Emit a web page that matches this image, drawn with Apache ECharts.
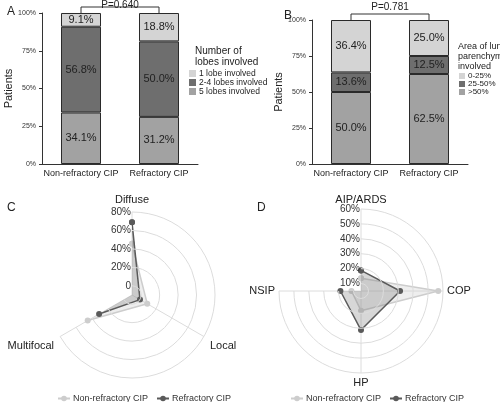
<!DOCTYPE html>
<html><head><meta charset="utf-8">
<script src="https://cdn.jsdelivr.net/npm/echarts@6/dist/echarts.min.js"></script>
<style>html,body{margin:0;padding:0;background:#fff}#c{width:500px;height:402px}</style>
</head><body><div id="c"></div>
<script>
const barCats = ['Non-refractory CIP', 'Refractory CIP'];
const lobeNames = ['1 lobe involved', '2-4 lobes involved', '5 lobes involved'];
const lobe1 = [9.1, 18.8];
const lobe2to4 = [56.8, 50.0];
const lobe5 = [34.1, 31.2];
const areaNames = ['0-25%', '25-50%', '>50%'];
const area0to25 = [36.4, 25.0];
const area25to50 = [13.6, 12.5];
const areaOver50 = [50.0, 62.5];
const pValues = ['P=0.640', 'P=0.781'];
const groupNames = ['Non-refractory CIP', 'Refractory CIP'];
const patternCats = ['Diffuse', 'Local', 'Multifocal'];
const nrPattern = [45.5, 9.1, 45.5];
const rPattern = [68.8, 0, 31.2];
const typeCats = ['AIP/ARDS', 'COP', 'HP', 'NSIP'];
const nrType = [13.6, 56.8, 18.2, 11.4];
const rType = [18.8, 31.2, 31.2, 18.8];

const FONT = 'Liberation Sans, Arial, sans-serif';
const LIGHT = '#d4d4d4', DARK = '#6e6e6e', MID = '#a2a2a2';
const chart = echarts.init(document.getElementById('c'));

function barAxisY(grid) {
  return {
    gridIndex: grid, type: 'value', min: 0, max: 100, interval: 25,
    name: 'Patients', nameLocation: 'middle', nameRotate: 90, nameGap: 25,
    nameTextStyle: {fontSize: 11, color: '#222', fontFamily: FONT},
    axisLine: {show: true, lineStyle: {color: '#333'}},
    axisTick: {show: true, length: 3, lineStyle: {color: '#333'}},
    axisLabel: {fontSize: 7, color: '#333', margin: 6, formatter: v => v + '%', fontFamily: FONT},
    splitLine: {show: false}
  };
}
function barAxisX(grid) {
  return {
    gridIndex: grid, type: 'category', data: barCats,
    axisLine: {lineStyle: {color: '#333'}},
    axisTick: {alignWithLabel: true, length: 3, lineStyle: {color: '#333'}},
    axisLabel: {fontSize: 9, color: '#222', margin: 5, interval: 0, hideOverlap: false, fontFamily: FONT}
  };
}
function barSeries(name, data, color, grid, stack) {
  return {
    type: 'bar', name: name, data: data, stack: stack, xAxisIndex: grid, yAxisIndex: grid,
    barWidth: 40, itemStyle: {color: color, borderColor: '#2a2a2a', borderWidth: 1},
    label: {show: true, position: 'inside', formatter: p => p.value.toFixed(1) + '%',
      fontSize: 11, color: '#222', fontFamily: FONT}
  };
}
function polarLine(name, vals, polar, color, area, z) {
  const d = vals.map((v, i) => [v, i]);
  d.push([vals[0], 0]);
  return {
    type: 'line', name: name, coordinateSystem: 'polar', polarIndex: polar, data: d,
    symbol: 'circle', symbolSize: 6, z: z,
    lineStyle: {color: color, width: 1.5}, itemStyle: {color: color},
    areaStyle: {color: area, origin: 'start'}
  };
}
function radiusAxis(polar, min, max, fmt) {
  return {
    polarIndex: polar, type: 'value', min: min, max: max,
    axisLine: {show: false}, axisTick: {show: false},
    axisLabel: {fontSize: 10, color: '#333', formatter: fmt, margin: 1, align: 'right', fontFamily: FONT},
    splitLine: {show: true, lineStyle: {color: '#dcdcdc', width: 1}}, z: 5
  };
}
function angleAxis(polar, cats, margin, vAlign) {
  const lbl = {fontSize: 11, color: '#222', margin: margin, fontFamily: FONT};
  if (vAlign) lbl.verticalAlign = vAlign;
  return {
    polarIndex: polar, type: 'category', data: cats, startAngle: 90, boundaryGap: false, clockwise: true,
    axisLine: {show: false}, axisTick: {show: false},
    axisLabel: lbl,
    splitLine: {show: true, lineStyle: {color: '#dcdcdc', width: 1}}
  };
}
function radarLegend(left) {
  return {data: groupNames, left: left, top: 389, itemWidth: 12, itemHeight: 7, itemGap: 8,
    textStyle: {fontSize: 9, color: '#333', padding: [0, 0, 0, -2]}, selectedMode: false};
}

const option = {
  animation: false,
  textStyle: {fontFamily: FONT},
  title: [
    {text: 'A', left: 2, top: 1, textStyle: {fontSize: 12, fontWeight: 'normal', color: '#222'}},
    {text: 'B', left: 279, top: 5, textStyle: {fontSize: 12, fontWeight: 'normal', color: '#222'}},
    {text: 'C', left: 2, top: 197, textStyle: {fontSize: 12, fontWeight: 'normal', color: '#222'}},
    {text: 'D', left: 252, top: 197, textStyle: {fontSize: 12, fontWeight: 'normal', color: '#222'}},
    {text: 'Number of\nlobes involved', left: 190, top: 41, textStyle: {fontSize: 10, fontWeight: 'normal', color: '#222', lineHeight: 11}},
    {text: 'Area of lung\nparenchyma\ninvolved', left: 453, top: 37, textStyle: {fontSize: 9, fontWeight: 'normal', color: '#222', lineHeight: 10}}
  ],
  legend: [
    {data: lobeNames, orient: 'vertical', left: 184, top: 64, itemWidth: 7, itemHeight: 7, itemGap: 0, icon: 'rect',
      itemStyle: {borderWidth: 0}, textStyle: {fontSize: 8.5, color: '#222', padding: [0, 0, 0, -2]}, selectedMode: false},
    {data: areaNames, orient: 'vertical', left: 454, top: 67, itemWidth: 6, itemHeight: 6, itemGap: 0, icon: 'rect',
      itemStyle: {borderWidth: 0}, textStyle: {fontSize: 8, color: '#222', padding: [0, 0, 0, -2]}, selectedMode: false},
    radarLegend(52),
    radarLegend(285)
  ],
  grid: [
    {left: 42, top: 13, width: 156, height: 151},
    {left: 312, top: 20, width: 156, height: 144}
  ],
  xAxis: [barAxisX(0), barAxisX(1)],
  yAxis: [barAxisY(0), barAxisY(1)],
  polar: [
    {center: [132, 295], radius: 83},
    {center: [361, 291], radius: 82}
  ],
  angleAxis: [angleAxis(0, patternCats, 7, 'bottom'), angleAxis(1, typeCats, 4)],
  radiusAxis: [
    radiusAxis(0, -10, 80, v => v < 0 ? '' : (v === 0 ? '0' : v + '%')),
    radiusAxis(1, 5, 60, v => v % 10 !== 0 ? '' : v + '%')
  ],
  series: [
    barSeries(lobeNames[2], lobe5, MID, 0, 'a'),
    barSeries(lobeNames[1], lobe2to4, DARK, 0, 'a'),
    barSeries(lobeNames[0], lobe1, LIGHT, 0, 'a'),
    barSeries(areaNames[2], areaOver50, MID, 1, 'b'),
    barSeries(areaNames[1], area25to50, DARK, 1, 'b'),
    barSeries(areaNames[0], area0to25, LIGHT, 1, 'b'),
    polarLine(groupNames[0], nrPattern, 0, '#cdcdcd', 'rgba(200,200,200,0.45)', 3),
    polarLine(groupNames[1], rPattern, 0, '#5a5a5a', 'rgba(110,110,110,0.4)', 4),
    polarLine(groupNames[0], nrType, 1, '#cdcdcd', 'rgba(200,200,200,0.45)', 3),
    polarLine(groupNames[1], rType, 1, '#5a5a5a', 'rgba(110,110,110,0.4)', 4)
  ]
};
chart.setOption(option);

// P-value brackets derived from the axes
const graphics = [];
[[0, 6], [1, 6]].forEach(([g, rise], idx) => {
  const p1 = chart.convertToPixel({gridIndex: g}, [0, 100]);
  const p2 = chart.convertToPixel({gridIndex: g}, [1, 100]);
  const yTop = p1[1] - rise;
  graphics.push({type: 'polyline', shape: {points: [[p1[0], p1[1]], [p1[0], yTop], [p2[0], yTop], [p2[0], p2[1]]]},
    style: {stroke: '#333', lineWidth: 1, fill: null}, silent: true});
  graphics.push({type: 'text', x: (p1[0] + p2[0]) / 2, y: yTop - (idx === 0 ? 2 : 7),
    style: {text: pValues[idx], fontSize: 10, fill: '#222', align: 'center', verticalAlign: 'middle', fontFamily: FONT}});
});
chart.setOption({graphic: graphics});
</script></body></html>
